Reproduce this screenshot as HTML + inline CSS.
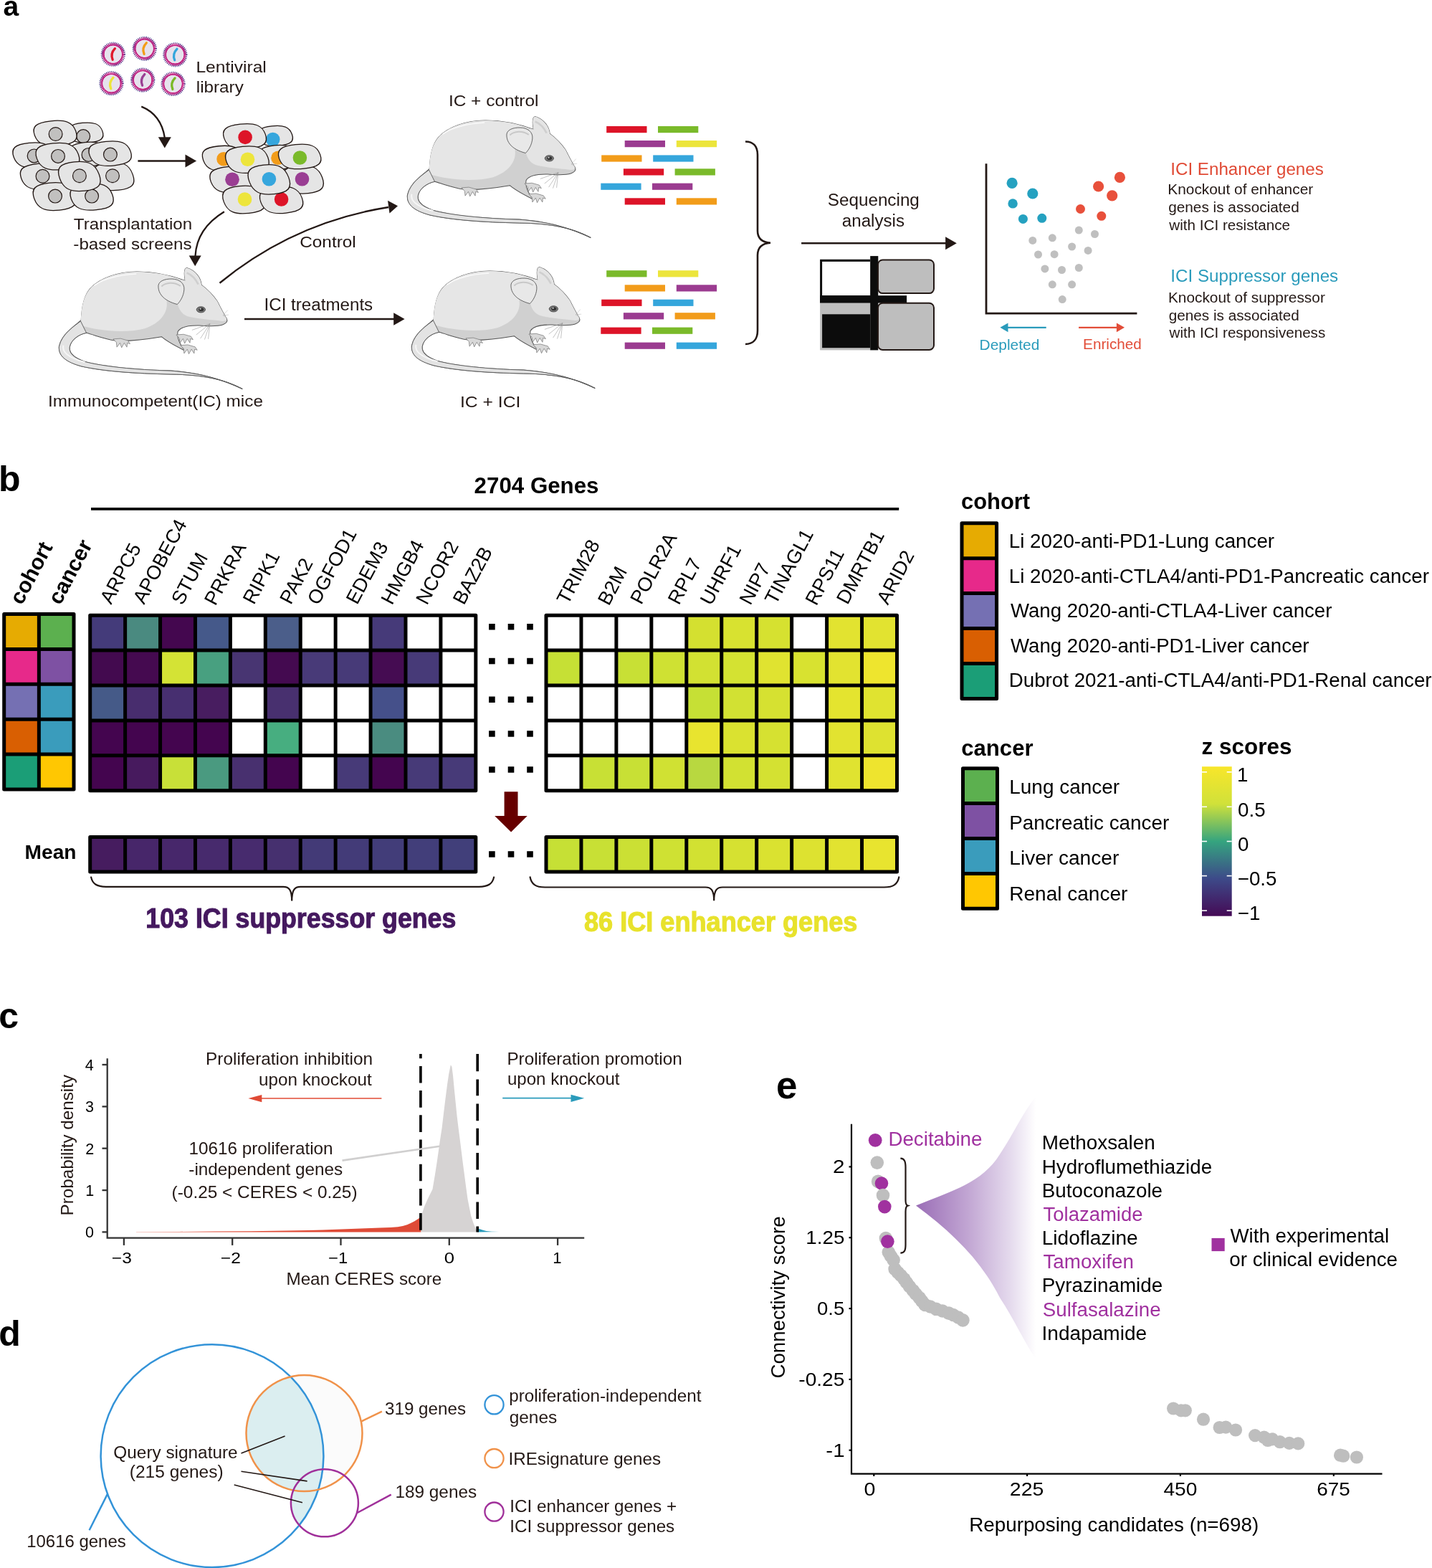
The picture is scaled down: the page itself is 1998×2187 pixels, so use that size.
<!DOCTYPE html>
<html><head><meta charset="utf-8"><title>Figure</title>
<style>html,body{margin:0;padding:0;background:#fff;}svg{display:block;}text{font-family:'Liberation Sans', Arial, Helvetica, sans-serif;}</style>
</head><body>
<svg width="1998" height="2187" viewBox="0 0 1998 2187">
<rect width="1998" height="2187" fill="#fff"/>
<text x="4.40" y="22.40" font-size="39" font-weight="bold" fill="#000" >a</text>
<text x="-2.10" y="685.00" font-size="50" font-weight="bold" fill="#000" >b</text>
<text x="-1.70" y="1434.40" font-size="50" font-weight="bold" fill="#000" >c</text>
<text x="-1.80" y="1876.60" font-size="50" font-weight="bold" fill="#000" >d</text>
<text x="1083.04" y="1532.40" font-size="54" font-weight="bold" fill="#000" textLength="29.45" lengthAdjust="spacingAndGlyphs" >e</text>
<g transform="translate(0,0)">
<path d="M143.00,185.20 C143.00,195.42 136.50,199.40 119.80,199.40 C103.10,199.40 96.60,195.42 96.60,185.20 C96.60,174.98 103.10,171.00 119.80,171.00 C136.50,171.00 143.00,174.98 143.00,185.20 Z" transform="translate(119.80 185.20) rotate(-6) skewX(14) translate(-119.80 -185.20)" fill="#e5e5e5" stroke="#231815" stroke-width="1.3"/>
<circle cx="116.2" cy="190.1" r="9.4" fill="#c1c0bf" stroke="#231815" stroke-width="1.2"/>
<path d="M105.90,185.85 C105.90,198.56 97.82,203.50 77.05,203.50 C56.28,203.50 48.20,198.56 48.20,185.85 C48.20,173.14 56.28,168.20 77.05,168.20 C97.82,168.20 105.90,173.14 105.90,185.85 Z" transform="translate(77.05 185.85) rotate(-6) skewX(14) translate(-77.05 -185.85)" fill="#e5e5e5" stroke="#231815" stroke-width="1.3"/>
<circle cx="77.6" cy="187.0" r="9.4" fill="#c1c0bf" stroke="#231815" stroke-width="1.2"/>
<path d="M74.00,216.30 C74.00,228.90 66.30,233.80 46.50,233.80 C26.70,233.80 19.00,228.90 19.00,216.30 C19.00,203.70 26.70,198.80 46.50,198.80 C66.30,198.80 74.00,203.70 74.00,216.30 Z" transform="translate(46.50 216.30) rotate(-6) skewX(14) translate(-46.50 -216.30)" fill="#e5e5e5" stroke="#231815" stroke-width="1.3"/>
<circle cx="47.6" cy="217.4" r="9.4" fill="#c1c0bf" stroke="#231815" stroke-width="1.2"/>
<path d="M150.00,215.00 C150.00,227.24 142.72,232.00 124.00,232.00 C105.28,232.00 98.00,227.24 98.00,215.00 C98.00,202.76 105.28,198.00 124.00,198.00 C142.72,198.00 150.00,202.76 150.00,215.00 Z" transform="translate(124.00 215.00) rotate(-6) skewX(14) translate(-124.00 -215.00)" fill="#e5e5e5" stroke="#231815" stroke-width="1.3"/>
<circle cx="123.5" cy="215.9" r="9.4" fill="#c1c0bf" stroke="#231815" stroke-width="1.2"/>
<path d="M88.40,246.00 C88.40,259.18 80.17,264.30 59.00,264.30 C37.83,264.30 29.60,259.18 29.60,246.00 C29.60,232.82 37.83,227.70 59.00,227.70 C80.17,227.70 88.40,232.82 88.40,246.00 Z" transform="translate(59.00 246.00) rotate(-6) skewX(14) translate(-59.00 -246.00)" fill="#e5e5e5" stroke="#231815" stroke-width="1.3"/>
<circle cx="59.5" cy="245.8" r="9.4" fill="#c1c0bf" stroke="#231815" stroke-width="1.2"/>
<path d="M185.30,246.00 C185.30,260.29 177.80,265.85 158.50,265.85 C139.20,265.85 131.70,260.29 131.70,246.00 C131.70,231.71 139.20,226.15 158.50,226.15 C177.80,226.15 185.30,231.71 185.30,246.00 Z" transform="translate(158.50 246.00) rotate(-6) skewX(14) translate(-158.50 -246.00)" fill="#e5e5e5" stroke="#231815" stroke-width="1.3"/>
<circle cx="157.0" cy="245.3" r="9.4" fill="#c1c0bf" stroke="#231815" stroke-width="1.2"/>
<path d="M109.50,218.20 C109.50,231.74 101.35,237.00 80.40,237.00 C59.45,237.00 51.30,231.74 51.30,218.20 C51.30,204.66 59.45,199.40 80.40,199.40 C101.35,199.40 109.50,204.66 109.50,218.20 Z" transform="translate(80.40 218.20) rotate(-6) skewX(14) translate(-80.40 -218.20)" fill="#e5e5e5" stroke="#231815" stroke-width="1.3"/>
<circle cx="81.0" cy="217.9" r="9.4" fill="#c1c0bf" stroke="#231815" stroke-width="1.2"/>
<path d="M182.30,214.05 C182.30,226.47 174.28,231.30 153.65,231.30 C133.02,231.30 125.00,226.47 125.00,214.05 C125.00,201.63 133.02,196.80 153.65,196.80 C174.28,196.80 182.30,201.63 182.30,214.05 Z" transform="translate(153.65 214.05) rotate(-6) skewX(14) translate(-153.65 -214.05)" fill="#e5e5e5" stroke="#231815" stroke-width="1.3"/>
<circle cx="153.9" cy="215.6" r="9.4" fill="#c1c0bf" stroke="#231815" stroke-width="1.2"/>
<path d="M104.40,274.10 C104.40,288.21 96.45,293.70 76.00,293.70 C55.55,293.70 47.60,288.21 47.60,274.10 C47.60,259.99 55.55,254.50 76.00,254.50 C96.45,254.50 104.40,259.99 104.40,274.10 Z" transform="translate(76.00 274.10) rotate(-6) skewX(14) translate(-76.00 -274.10)" fill="#e5e5e5" stroke="#231815" stroke-width="1.3"/>
<circle cx="77.0" cy="273.6" r="9.4" fill="#c1c0bf" stroke="#231815" stroke-width="1.2"/>
<path d="M157.00,274.60 C157.00,287.99 148.91,293.20 128.10,293.20 C107.29,293.20 99.20,287.99 99.20,274.60 C99.20,261.21 107.29,256.00 128.10,256.00 C148.91,256.00 157.00,261.21 157.00,274.60 Z" transform="translate(128.10 274.60) rotate(-6) skewX(14) translate(-128.10 -274.60)" fill="#e5e5e5" stroke="#231815" stroke-width="1.3"/>
<circle cx="128.1" cy="273.6" r="9.4" fill="#c1c0bf" stroke="#231815" stroke-width="1.2"/>
<path d="M138.40,246.00 C138.40,261.05 130.67,266.90 110.80,266.90 C90.93,266.90 83.20,261.05 83.20,246.00 C83.20,230.95 90.93,225.10 110.80,225.10 C130.67,225.10 138.40,230.95 138.40,246.00 Z" transform="translate(110.80 246.00) rotate(-6) skewX(14) translate(-110.80 -246.00)" fill="#e5e5e5" stroke="#231815" stroke-width="1.3"/>
<circle cx="110.9" cy="245.3" r="9.4" fill="#c1c0bf" stroke="#231815" stroke-width="1.2"/>
</g>
<g transform="translate(264.5,4.4)">
<path d="M143.00,185.20 C143.00,195.42 136.50,199.40 119.80,199.40 C103.10,199.40 96.60,195.42 96.60,185.20 C96.60,174.98 103.10,171.00 119.80,171.00 C136.50,171.00 143.00,174.98 143.00,185.20 Z" transform="translate(119.80 185.20) rotate(-6) skewX(14) translate(-119.80 -185.20)" fill="#e5e5e5" stroke="#231815" stroke-width="1.3"/>
<circle cx="116.2" cy="190.1" r="9.8" fill="#36a6dd"/>
<path d="M105.90,185.85 C105.90,198.56 97.82,203.50 77.05,203.50 C56.28,203.50 48.20,198.56 48.20,185.85 C48.20,173.14 56.28,168.20 77.05,168.20 C97.82,168.20 105.90,173.14 105.90,185.85 Z" transform="translate(77.05 185.85) rotate(-6) skewX(14) translate(-77.05 -185.85)" fill="#e5e5e5" stroke="#231815" stroke-width="1.3"/>
<circle cx="77.6" cy="187.0" r="9.8" fill="#dd1428"/>
<path d="M74.00,216.30 C74.00,228.90 66.30,233.80 46.50,233.80 C26.70,233.80 19.00,228.90 19.00,216.30 C19.00,203.70 26.70,198.80 46.50,198.80 C66.30,198.80 74.00,203.70 74.00,216.30 Z" transform="translate(46.50 216.30) rotate(-6) skewX(14) translate(-46.50 -216.30)" fill="#e5e5e5" stroke="#231815" stroke-width="1.3"/>
<circle cx="47.6" cy="217.4" r="9.8" fill="#f29c1a"/>
<path d="M150.00,215.00 C150.00,227.24 142.72,232.00 124.00,232.00 C105.28,232.00 98.00,227.24 98.00,215.00 C98.00,202.76 105.28,198.00 124.00,198.00 C142.72,198.00 150.00,202.76 150.00,215.00 Z" transform="translate(124.00 215.00) rotate(-6) skewX(14) translate(-124.00 -215.00)" fill="#e5e5e5" stroke="#231815" stroke-width="1.3"/>
<circle cx="123.5" cy="215.9" r="9.8" fill="#f29c1a"/>
<path d="M88.40,246.00 C88.40,259.18 80.17,264.30 59.00,264.30 C37.83,264.30 29.60,259.18 29.60,246.00 C29.60,232.82 37.83,227.70 59.00,227.70 C80.17,227.70 88.40,232.82 88.40,246.00 Z" transform="translate(59.00 246.00) rotate(-6) skewX(14) translate(-59.00 -246.00)" fill="#e5e5e5" stroke="#231815" stroke-width="1.3"/>
<circle cx="59.5" cy="245.8" r="9.8" fill="#9a3e93"/>
<path d="M185.30,246.00 C185.30,260.29 177.80,265.85 158.50,265.85 C139.20,265.85 131.70,260.29 131.70,246.00 C131.70,231.71 139.20,226.15 158.50,226.15 C177.80,226.15 185.30,231.71 185.30,246.00 Z" transform="translate(158.50 246.00) rotate(-6) skewX(14) translate(-158.50 -246.00)" fill="#e5e5e5" stroke="#231815" stroke-width="1.3"/>
<circle cx="157.0" cy="245.3" r="9.8" fill="#9a3e93"/>
<path d="M109.50,218.20 C109.50,231.74 101.35,237.00 80.40,237.00 C59.45,237.00 51.30,231.74 51.30,218.20 C51.30,204.66 59.45,199.40 80.40,199.40 C101.35,199.40 109.50,204.66 109.50,218.20 Z" transform="translate(80.40 218.20) rotate(-6) skewX(14) translate(-80.40 -218.20)" fill="#e5e5e5" stroke="#231815" stroke-width="1.3"/>
<circle cx="81.0" cy="217.9" r="9.8" fill="#ede53c"/>
<path d="M182.30,214.05 C182.30,226.47 174.28,231.30 153.65,231.30 C133.02,231.30 125.00,226.47 125.00,214.05 C125.00,201.63 133.02,196.80 153.65,196.80 C174.28,196.80 182.30,201.63 182.30,214.05 Z" transform="translate(153.65 214.05) rotate(-6) skewX(14) translate(-153.65 -214.05)" fill="#e5e5e5" stroke="#231815" stroke-width="1.3"/>
<circle cx="153.9" cy="215.6" r="9.8" fill="#7aba2a"/>
<path d="M104.40,274.10 C104.40,288.21 96.45,293.70 76.00,293.70 C55.55,293.70 47.60,288.21 47.60,274.10 C47.60,259.99 55.55,254.50 76.00,254.50 C96.45,254.50 104.40,259.99 104.40,274.10 Z" transform="translate(76.00 274.10) rotate(-6) skewX(14) translate(-76.00 -274.10)" fill="#e5e5e5" stroke="#231815" stroke-width="1.3"/>
<circle cx="77.0" cy="273.6" r="9.8" fill="#ede53c"/>
<path d="M157.00,274.60 C157.00,287.99 148.91,293.20 128.10,293.20 C107.29,293.20 99.20,287.99 99.20,274.60 C99.20,261.21 107.29,256.00 128.10,256.00 C148.91,256.00 157.00,261.21 157.00,274.60 Z" transform="translate(128.10 274.60) rotate(-6) skewX(14) translate(-128.10 -274.60)" fill="#e5e5e5" stroke="#231815" stroke-width="1.3"/>
<circle cx="128.1" cy="273.6" r="9.8" fill="#dd1428"/>
<path d="M138.40,246.00 C138.40,261.05 130.67,266.90 110.80,266.90 C90.93,266.90 83.20,261.05 83.20,246.00 C83.20,230.95 90.93,225.10 110.80,225.10 C130.67,225.10 138.40,230.95 138.40,246.00 Z" transform="translate(110.80 246.00) rotate(-6) skewX(14) translate(-110.80 -246.00)" fill="#e5e5e5" stroke="#231815" stroke-width="1.3"/>
<circle cx="110.9" cy="245.3" r="9.8" fill="#36a6dd"/>
</g>
<circle cx="157.8" cy="75.7" r="14.6" fill="none" stroke="#2d2a80" stroke-width="5" stroke-dasharray="0.9 1.3"/>
<circle cx="157.8" cy="75.7" r="14.2" fill="none" stroke="#c8197d" stroke-width="3.2" stroke-dasharray="1.1 0.9"/>
<circle cx="157.8" cy="75.7" r="12.8" fill="none" stroke="#c8197d" stroke-width="1.5"/>
<circle cx="157.8" cy="75.7" r="12.0" fill="#e6e2ec"/>
<path d="M160.4,67.7 Q153.6,74.7 157.2,83.3" fill="none" stroke="#e0182c" stroke-width="3.3" stroke-linecap="round"/>
<circle cx="201.7" cy="67.8" r="14.6" fill="none" stroke="#2d2a80" stroke-width="5" stroke-dasharray="0.9 1.3"/>
<circle cx="201.7" cy="67.8" r="14.2" fill="none" stroke="#c8197d" stroke-width="3.2" stroke-dasharray="1.1 0.9"/>
<circle cx="201.7" cy="67.8" r="12.8" fill="none" stroke="#c8197d" stroke-width="1.5"/>
<circle cx="201.7" cy="67.8" r="12.0" fill="#e6e2ec"/>
<path d="M204.3,59.8 Q197.5,66.8 201.1,75.4" fill="none" stroke="#f39d17" stroke-width="3.3" stroke-linecap="round"/>
<circle cx="244.3" cy="76.3" r="14.6" fill="none" stroke="#2d2a80" stroke-width="5" stroke-dasharray="0.9 1.3"/>
<circle cx="244.3" cy="76.3" r="14.2" fill="none" stroke="#c8197d" stroke-width="3.2" stroke-dasharray="1.1 0.9"/>
<circle cx="244.3" cy="76.3" r="12.8" fill="none" stroke="#c8197d" stroke-width="1.5"/>
<circle cx="244.3" cy="76.3" r="12.0" fill="#e6e2ec"/>
<path d="M246.9,68.3 Q240.1,75.3 243.7,83.9" fill="none" stroke="#35a6dc" stroke-width="3.3" stroke-linecap="round"/>
<circle cx="155.4" cy="116.2" r="14.6" fill="none" stroke="#2d2a80" stroke-width="5" stroke-dasharray="0.9 1.3"/>
<circle cx="155.4" cy="116.2" r="14.2" fill="none" stroke="#c8197d" stroke-width="3.2" stroke-dasharray="1.1 0.9"/>
<circle cx="155.4" cy="116.2" r="12.8" fill="none" stroke="#c8197d" stroke-width="1.5"/>
<circle cx="155.4" cy="116.2" r="12.0" fill="#e6e2ec"/>
<path d="M158.0,108.2 Q151.2,115.2 154.8,123.8" fill="none" stroke="#ede53a" stroke-width="3.3" stroke-linecap="round"/>
<circle cx="199.2" cy="111.6" r="14.6" fill="none" stroke="#2d2a80" stroke-width="5" stroke-dasharray="0.9 1.3"/>
<circle cx="199.2" cy="111.6" r="14.2" fill="none" stroke="#c8197d" stroke-width="3.2" stroke-dasharray="1.1 0.9"/>
<circle cx="199.2" cy="111.6" r="12.8" fill="none" stroke="#c8197d" stroke-width="1.5"/>
<circle cx="199.2" cy="111.6" r="12.0" fill="#e6e2ec"/>
<path d="M201.8,103.6 Q195.0,110.6 198.6,119.2" fill="none" stroke="#9a3f93" stroke-width="3.3" stroke-linecap="round"/>
<circle cx="241.5" cy="116.9" r="14.6" fill="none" stroke="#2d2a80" stroke-width="5" stroke-dasharray="0.9 1.3"/>
<circle cx="241.5" cy="116.9" r="14.2" fill="none" stroke="#c8197d" stroke-width="3.2" stroke-dasharray="1.1 0.9"/>
<circle cx="241.5" cy="116.9" r="12.8" fill="none" stroke="#c8197d" stroke-width="1.5"/>
<circle cx="241.5" cy="116.9" r="12.0" fill="#e6e2ec"/>
<path d="M244.1,108.9 Q237.3,115.9 240.9,124.5" fill="none" stroke="#7aba26" stroke-width="3.3" stroke-linecap="round"/>
<text x="273.43" y="100.70" font-size="22.5" fill="#231815" textLength="98.37" lengthAdjust="spacingAndGlyphs" >Lentiviral</text>
<text x="273.78" y="128.90" font-size="22.5" fill="#231815" textLength="65.99" lengthAdjust="spacingAndGlyphs" >library</text>
<path d="M197.3,148.6 Q225,160 229.8,192" fill="none" stroke="#231815" stroke-width="2.3"/>
<polygon points="229.8,206.5 220.8,191.2 238.8,191.2" fill="#231815"/>
<line x1="192.4" y1="224.5" x2="260" y2="224.5" stroke="#231815" stroke-width="2.3"/>
<polygon points="274.1,224.5 258.5,215.5 258.5,233.5" fill="#231815"/>
<path d="M312.9,295.3 C292,308 274,328 272.5,357" fill="none" stroke="#231815" stroke-width="2.3"/>
<polygon points="272.2,371.2 263.7,356.4 280.7,356.4" fill="#231815"/>
<path d="M306.5,394.7 Q410,310 542,289" fill="none" stroke="#231815" stroke-width="2.4"/>
<polygon points="555,287.2 541,279.8 543.5,297.4" fill="#231815"/>
<line x1="341" y1="445" x2="551" y2="445" stroke="#231815" stroke-width="2.4"/>
<polygon points="564.6,445 549.2,436.2 549.2,453.8" fill="#231815"/>
<text x="102.86" y="320.10" font-size="22.5" fill="#231815" textLength="165.30" lengthAdjust="spacingAndGlyphs" >Transplantation</text>
<text x="102.33" y="348.40" font-size="22.5" fill="#231815" textLength="165.27" lengthAdjust="spacingAndGlyphs" >-based screens</text>
<text x="418.21" y="345.10" font-size="22.5" fill="#231815" textLength="78.56" lengthAdjust="spacingAndGlyphs" >Control</text>
<text x="368.49" y="433.20" font-size="23" fill="#231815" textLength="151.69" lengthAdjust="spacingAndGlyphs" >ICI treatments</text>
<text x="67.03" y="567.30" font-size="22.5" fill="#231815" textLength="299.94" lengthAdjust="spacingAndGlyphs" >Immunocompetent(IC) mice</text>
<text x="625.92" y="147.70" font-size="22.5" fill="#231815" textLength="125.60" lengthAdjust="spacingAndGlyphs" >IC + control</text>
<text x="641.99" y="567.60" font-size="22.5" fill="#231815" textLength="84.41" lengthAdjust="spacingAndGlyphs" >IC + ICI</text>
<g transform="translate(70,360) scale(0.14658)">
<path d="M1285,215 C1150,165 980,128 820,130 C640,133 470,190 380,290 C320,360 300,460 295,590 C240,640 110,720 85,840 C75,930 150,990 300,1030 C500,1075 800,1098 1150,1105 C1450,1110 1650,1150 1830,1245 C1650,1160 1450,1095 1150,1072 C800,1062 500,1030 330,985 C230,950 180,910 185,850 C195,780 270,725 345,712 C430,735 520,770 620,785 C760,795 930,770 1060,748 C1120,800 1200,840 1290,885 C1240,830 1205,760 1215,700 C1240,655 1330,640 1420,642 C1500,645 1580,655 1640,635 C1690,615 1695,590 1670,560 C1640,510 1610,450 1590,410 C1550,350 1500,300 1440,255 C1435,195 1390,120 1300,92 C1270,100 1275,160 1285,215 Z" fill="#d0d0d0" stroke="#555" stroke-width="7"/>
<path d="M292,610 C295,460 320,360 380,290 C470,190 640,133 820,130 C980,128 1150,165 1250,205 C1150,260 1100,330 1110,420 C1120,520 1050,620 900,670 C700,720 450,690 292,640 Z" fill="#e6e6e6"/>
<path d="M1250,205 L1285,215 C1275,160 1270,100 1300,92 C1390,120 1435,195 1440,255 C1500,300 1550,350 1590,410 C1610,450 1640,510 1670,560 C1690,590 1680,600 1640,600 C1560,590 1450,585 1330,560 C1260,545 1230,500 1210,430 C1200,350 1210,260 1250,205 Z" fill="#e4e4e4"/>
<path d="M290,600 C240,640 110,720 85,840 C75,930 150,990 300,1030 C500,1075 800,1098 1150,1105 C1450,1110 1650,1150 1830,1245 C1650,1160 1450,1095 1150,1072 C800,1062 500,1030 330,985 C230,950 180,910 185,850 C195,780 270,725 345,712 Z" fill="#e3e3e3" stroke="#555" stroke-width="6"/>
<path d="M1030,280 C1020,220 1090,195 1160,198 C1230,200 1280,240 1275,300 C1270,360 1240,410 1210,440 C1150,425 1090,395 1060,355 C1040,330 1032,305 1030,280 Z" fill="#e8e8e8" stroke="#555" stroke-width="6"/>
<path d="M1060,270 C1100,230 1180,225 1240,265" fill="none" stroke="#c8c8c8" stroke-width="14"/>
<path d="M1300,140 C1350,160 1390,210 1410,250" fill="none" stroke="#cfcfcf" stroke-width="18"/>
<path d="M420,260 C520,190 650,160 820,150" fill="none" stroke="#fafafa" stroke-width="10"/>
<path d="M125,830 C110,900 180,950 330,990" fill="none" stroke="#f6f6f6" stroke-width="14"/>
<ellipse cx="1435" cy="490" rx="42" ry="28" fill="#7a7a7a" stroke="#444" stroke-width="6"/>
<ellipse cx="1438" cy="489" rx="24" ry="16" fill="#333"/>
<circle cx="1430" cy="483" r="7" fill="#ddd"/>
<path d="M600,770 l70,-5 l70,20 l20,30 l-25,-8 l-5,40 l-25,-40 l-25,45 l-15,-45 l-30,40 l-5,-45 Z" fill="#d8d8d8" stroke="#777" stroke-width="5"/>
<path d="M1200,730 l70,-5 l70,20 l20,30 l-25,-8 l-5,40 l-25,-40 l-25,45 l-15,-45 l-30,40 l-5,-45 Z" fill="#d8d8d8" stroke="#777" stroke-width="5"/>
<path d="M1240,830 l70,-5 l70,20 l20,30 l-25,-8 l-5,40 l-25,-40 l-25,45 l-15,-45 l-30,40 l-5,-45 Z" fill="#d8d8d8" stroke="#777" stroke-width="5"/>
<line x1="1520" y1="625" x2="1350" y2="685" stroke="#999" stroke-width="4"/>
<line x1="1520" y1="625" x2="1390" y2="730" stroke="#999" stroke-width="4"/>
<line x1="1520" y1="625" x2="1430" y2="765" stroke="#999" stroke-width="4"/>
<line x1="1520" y1="625" x2="1470" y2="775" stroke="#999" stroke-width="4"/>
<line x1="1520" y1="625" x2="1505" y2="770" stroke="#999" stroke-width="4"/>
<line x1="1645" y1="545" x2="1690" y2="495" stroke="#aaa" stroke-width="3"/>
<line x1="1645" y1="545" x2="1700" y2="540" stroke="#aaa" stroke-width="3"/>
<line x1="1645" y1="545" x2="1680" y2="565" stroke="#aaa" stroke-width="3"/>
</g>
<g transform="translate(556,149) scale(0.14658)">
<path d="M1285,215 C1150,165 980,128 820,130 C640,133 470,190 380,290 C320,360 300,460 295,590 C240,640 110,720 85,840 C75,930 150,990 300,1030 C500,1075 800,1098 1150,1105 C1450,1110 1650,1150 1830,1245 C1650,1160 1450,1095 1150,1072 C800,1062 500,1030 330,985 C230,950 180,910 185,850 C195,780 270,725 345,712 C430,735 520,770 620,785 C760,795 930,770 1060,748 C1120,800 1200,840 1290,885 C1240,830 1205,760 1215,700 C1240,655 1330,640 1420,642 C1500,645 1580,655 1640,635 C1690,615 1695,590 1670,560 C1640,510 1610,450 1590,410 C1550,350 1500,300 1440,255 C1435,195 1390,120 1300,92 C1270,100 1275,160 1285,215 Z" fill="#d0d0d0" stroke="#555" stroke-width="7"/>
<path d="M292,610 C295,460 320,360 380,290 C470,190 640,133 820,130 C980,128 1150,165 1250,205 C1150,260 1100,330 1110,420 C1120,520 1050,620 900,670 C700,720 450,690 292,640 Z" fill="#e6e6e6"/>
<path d="M1250,205 L1285,215 C1275,160 1270,100 1300,92 C1390,120 1435,195 1440,255 C1500,300 1550,350 1590,410 C1610,450 1640,510 1670,560 C1690,590 1680,600 1640,600 C1560,590 1450,585 1330,560 C1260,545 1230,500 1210,430 C1200,350 1210,260 1250,205 Z" fill="#e4e4e4"/>
<path d="M290,600 C240,640 110,720 85,840 C75,930 150,990 300,1030 C500,1075 800,1098 1150,1105 C1450,1110 1650,1150 1830,1245 C1650,1160 1450,1095 1150,1072 C800,1062 500,1030 330,985 C230,950 180,910 185,850 C195,780 270,725 345,712 Z" fill="#e3e3e3" stroke="#555" stroke-width="6"/>
<path d="M1030,280 C1020,220 1090,195 1160,198 C1230,200 1280,240 1275,300 C1270,360 1240,410 1210,440 C1150,425 1090,395 1060,355 C1040,330 1032,305 1030,280 Z" fill="#e8e8e8" stroke="#555" stroke-width="6"/>
<path d="M1060,270 C1100,230 1180,225 1240,265" fill="none" stroke="#c8c8c8" stroke-width="14"/>
<path d="M1300,140 C1350,160 1390,210 1410,250" fill="none" stroke="#cfcfcf" stroke-width="18"/>
<path d="M420,260 C520,190 650,160 820,150" fill="none" stroke="#fafafa" stroke-width="10"/>
<path d="M125,830 C110,900 180,950 330,990" fill="none" stroke="#f6f6f6" stroke-width="14"/>
<ellipse cx="1435" cy="490" rx="42" ry="28" fill="#7a7a7a" stroke="#444" stroke-width="6"/>
<ellipse cx="1438" cy="489" rx="24" ry="16" fill="#333"/>
<circle cx="1430" cy="483" r="7" fill="#ddd"/>
<path d="M600,770 l70,-5 l70,20 l20,30 l-25,-8 l-5,40 l-25,-40 l-25,45 l-15,-45 l-30,40 l-5,-45 Z" fill="#d8d8d8" stroke="#777" stroke-width="5"/>
<path d="M1200,730 l70,-5 l70,20 l20,30 l-25,-8 l-5,40 l-25,-40 l-25,45 l-15,-45 l-30,40 l-5,-45 Z" fill="#d8d8d8" stroke="#777" stroke-width="5"/>
<path d="M1240,830 l70,-5 l70,20 l20,30 l-25,-8 l-5,40 l-25,-40 l-25,45 l-15,-45 l-30,40 l-5,-45 Z" fill="#d8d8d8" stroke="#777" stroke-width="5"/>
<line x1="1520" y1="625" x2="1350" y2="685" stroke="#999" stroke-width="4"/>
<line x1="1520" y1="625" x2="1390" y2="730" stroke="#999" stroke-width="4"/>
<line x1="1520" y1="625" x2="1430" y2="765" stroke="#999" stroke-width="4"/>
<line x1="1520" y1="625" x2="1470" y2="775" stroke="#999" stroke-width="4"/>
<line x1="1520" y1="625" x2="1505" y2="770" stroke="#999" stroke-width="4"/>
<line x1="1645" y1="545" x2="1690" y2="495" stroke="#aaa" stroke-width="3"/>
<line x1="1645" y1="545" x2="1700" y2="540" stroke="#aaa" stroke-width="3"/>
<line x1="1645" y1="545" x2="1680" y2="565" stroke="#aaa" stroke-width="3"/>
</g>
<g transform="translate(562,359) scale(0.14658)">
<path d="M1285,215 C1150,165 980,128 820,130 C640,133 470,190 380,290 C320,360 300,460 295,590 C240,640 110,720 85,840 C75,930 150,990 300,1030 C500,1075 800,1098 1150,1105 C1450,1110 1650,1150 1830,1245 C1650,1160 1450,1095 1150,1072 C800,1062 500,1030 330,985 C230,950 180,910 185,850 C195,780 270,725 345,712 C430,735 520,770 620,785 C760,795 930,770 1060,748 C1120,800 1200,840 1290,885 C1240,830 1205,760 1215,700 C1240,655 1330,640 1420,642 C1500,645 1580,655 1640,635 C1690,615 1695,590 1670,560 C1640,510 1610,450 1590,410 C1550,350 1500,300 1440,255 C1435,195 1390,120 1300,92 C1270,100 1275,160 1285,215 Z" fill="#d0d0d0" stroke="#555" stroke-width="7"/>
<path d="M292,610 C295,460 320,360 380,290 C470,190 640,133 820,130 C980,128 1150,165 1250,205 C1150,260 1100,330 1110,420 C1120,520 1050,620 900,670 C700,720 450,690 292,640 Z" fill="#e6e6e6"/>
<path d="M1250,205 L1285,215 C1275,160 1270,100 1300,92 C1390,120 1435,195 1440,255 C1500,300 1550,350 1590,410 C1610,450 1640,510 1670,560 C1690,590 1680,600 1640,600 C1560,590 1450,585 1330,560 C1260,545 1230,500 1210,430 C1200,350 1210,260 1250,205 Z" fill="#e4e4e4"/>
<path d="M290,600 C240,640 110,720 85,840 C75,930 150,990 300,1030 C500,1075 800,1098 1150,1105 C1450,1110 1650,1150 1830,1245 C1650,1160 1450,1095 1150,1072 C800,1062 500,1030 330,985 C230,950 180,910 185,850 C195,780 270,725 345,712 Z" fill="#e3e3e3" stroke="#555" stroke-width="6"/>
<path d="M1030,280 C1020,220 1090,195 1160,198 C1230,200 1280,240 1275,300 C1270,360 1240,410 1210,440 C1150,425 1090,395 1060,355 C1040,330 1032,305 1030,280 Z" fill="#e8e8e8" stroke="#555" stroke-width="6"/>
<path d="M1060,270 C1100,230 1180,225 1240,265" fill="none" stroke="#c8c8c8" stroke-width="14"/>
<path d="M1300,140 C1350,160 1390,210 1410,250" fill="none" stroke="#cfcfcf" stroke-width="18"/>
<path d="M420,260 C520,190 650,160 820,150" fill="none" stroke="#fafafa" stroke-width="10"/>
<path d="M125,830 C110,900 180,950 330,990" fill="none" stroke="#f6f6f6" stroke-width="14"/>
<ellipse cx="1435" cy="490" rx="42" ry="28" fill="#7a7a7a" stroke="#444" stroke-width="6"/>
<ellipse cx="1438" cy="489" rx="24" ry="16" fill="#333"/>
<circle cx="1430" cy="483" r="7" fill="#ddd"/>
<path d="M600,770 l70,-5 l70,20 l20,30 l-25,-8 l-5,40 l-25,-40 l-25,45 l-15,-45 l-30,40 l-5,-45 Z" fill="#d8d8d8" stroke="#777" stroke-width="5"/>
<path d="M1200,730 l70,-5 l70,20 l20,30 l-25,-8 l-5,40 l-25,-40 l-25,45 l-15,-45 l-30,40 l-5,-45 Z" fill="#d8d8d8" stroke="#777" stroke-width="5"/>
<path d="M1240,830 l70,-5 l70,20 l20,30 l-25,-8 l-5,40 l-25,-40 l-25,45 l-15,-45 l-30,40 l-5,-45 Z" fill="#d8d8d8" stroke="#777" stroke-width="5"/>
<line x1="1520" y1="625" x2="1350" y2="685" stroke="#999" stroke-width="4"/>
<line x1="1520" y1="625" x2="1390" y2="730" stroke="#999" stroke-width="4"/>
<line x1="1520" y1="625" x2="1430" y2="765" stroke="#999" stroke-width="4"/>
<line x1="1520" y1="625" x2="1470" y2="775" stroke="#999" stroke-width="4"/>
<line x1="1520" y1="625" x2="1505" y2="770" stroke="#999" stroke-width="4"/>
<line x1="1645" y1="545" x2="1690" y2="495" stroke="#aaa" stroke-width="3"/>
<line x1="1645" y1="545" x2="1700" y2="540" stroke="#aaa" stroke-width="3"/>
<line x1="1645" y1="545" x2="1680" y2="565" stroke="#aaa" stroke-width="3"/>
</g>
<rect x="846.2" y="176.0" width="56.3" height="9.2" fill="#dd1428"/>
<rect x="918" y="176.0" width="56.3" height="9.2" fill="#7aba2a"/>
<rect x="871.7" y="196.0" width="56.3" height="9.2" fill="#9b3b90"/>
<rect x="943.8" y="196.0" width="56.3" height="9.2" fill="#ece53c"/>
<rect x="839.2" y="216.4" width="56.3" height="9.2" fill="#f29c1a"/>
<rect x="911.2" y="216.4" width="56.3" height="9.2" fill="#35a6dc"/>
<rect x="869.9" y="235.3" width="56.3" height="9.2" fill="#dd1428"/>
<rect x="941.6" y="235.3" width="56.3" height="9.2" fill="#7aba2a"/>
<rect x="838.3" y="255.6" width="56.3" height="9.2" fill="#35a6dc"/>
<rect x="910" y="255.6" width="56.3" height="9.2" fill="#9b3b90"/>
<rect x="871.7" y="276.3" width="56.3" height="9.2" fill="#dd1428"/>
<rect x="943.8" y="276.3" width="56.3" height="9.2" fill="#f29c1a"/>
<rect x="846.2" y="377.2" width="56.3" height="9.2" fill="#7aba2a"/>
<rect x="918" y="377.2" width="56.3" height="9.2" fill="#ece53c"/>
<rect x="871.7" y="397.3" width="56.3" height="9.2" fill="#f29c1a"/>
<rect x="943.8" y="397.3" width="56.3" height="9.2" fill="#9b3b90"/>
<rect x="839.2" y="417.7" width="56.3" height="9.2" fill="#dd1428"/>
<rect x="911.2" y="417.7" width="56.3" height="9.2" fill="#35a6dc"/>
<rect x="869.9" y="436.2" width="56.3" height="9.2" fill="#9b3b90"/>
<rect x="941.6" y="436.2" width="56.3" height="9.2" fill="#f29c1a"/>
<rect x="838.3" y="456.6" width="56.3" height="9.2" fill="#dd1428"/>
<rect x="910" y="456.6" width="56.3" height="9.2" fill="#7aba2a"/>
<rect x="871.7" y="477.6" width="56.3" height="9.2" fill="#9b3b90"/>
<rect x="943.8" y="477.6" width="56.3" height="9.2" fill="#35a6dc"/>
<path d="M1040,197.5 C1051,197.5 1057,204 1057,216 L1057,322 C1057,333 1063,338 1075,338.7 C1063,339.4 1057,345 1057,356 L1057,461 C1057,473 1051,480 1040,480" fill="none" stroke="#231815" stroke-width="2.6"/>
<text x="1154.76" y="287.10" font-size="23.5" fill="#231815" textLength="128.12" lengthAdjust="spacingAndGlyphs" >Sequencing</text>
<text x="1174.77" y="315.80" font-size="23.5" fill="#231815" textLength="87.25" lengthAdjust="spacingAndGlyphs" >analysis</text>
<line x1="1118.1" y1="339.3" x2="1321" y2="339.3" stroke="#231815" stroke-width="2.6"/>
<polygon points="1334.8,339.3 1319.1,330.3 1319.1,348.3" fill="#231815"/>
<rect x="1144.1" y="361.8" width="70.1" height="61" fill="#0c0c0c"/>
<rect x="1147.1" y="364.9" width="67.1" height="47.3" fill="#fff"/>
<rect x="1144.1" y="412.2" width="121" height="10.4" fill="#0c0c0c"/>
<rect x="1144.1" y="422.6" width="70.1" height="65.8" fill="#bebebe"/>
<rect x="1147.1" y="438.3" width="67.1" height="46.9" fill="#0c0c0c"/>
<rect x="1214.2" y="357.1" width="11.1" height="131.3" fill="#0c0c0c"/>
<rect x="1225" y="362.5" width="78" height="46.6" rx="6.5" fill="#bebebe" stroke="#231815" stroke-width="2"/>
<rect x="1225" y="422.7" width="78" height="65.2" rx="6.5" fill="#bebebe" stroke="#231815" stroke-width="2"/>
<path d="M1376,228.3 L1376,437.1 L1586.4,437.1" fill="none" stroke="#231815" stroke-width="2.8"/>
<circle cx="1412.1" cy="255.4" r="7.6" fill="#25a1c0"/>
<circle cx="1440.8" cy="270" r="7.6" fill="#25a1c0"/>
<circle cx="1413.1" cy="283.9" r="6.7" fill="#25a1c0"/>
<circle cx="1427.4" cy="305.4" r="6.5" fill="#25a1c0"/>
<circle cx="1453.8" cy="304.3" r="6.5" fill="#25a1c0"/>
<circle cx="1562.4" cy="247.4" r="7.6" fill="#e8503b"/>
<circle cx="1532.6" cy="260" r="7.6" fill="#e8503b"/>
<circle cx="1551.7" cy="272.8" r="7.6" fill="#e8503b"/>
<circle cx="1507.5" cy="291.5" r="6.5" fill="#e8503b"/>
<circle cx="1536.8" cy="301.3" r="6.5" fill="#e8503b"/>
<circle cx="1505.3" cy="321.1" r="5.5" fill="#bfbfbf"/>
<circle cx="1527.5" cy="326.5" r="5.5" fill="#bfbfbf"/>
<circle cx="1440.8" cy="335.4" r="5.5" fill="#bfbfbf"/>
<circle cx="1468.3" cy="331.8" r="5.5" fill="#bfbfbf"/>
<circle cx="1495.6" cy="344" r="5.5" fill="#bfbfbf"/>
<circle cx="1518.1" cy="349.4" r="5.5" fill="#bfbfbf"/>
<circle cx="1448.5" cy="355" r="5.5" fill="#bfbfbf"/>
<circle cx="1471.1" cy="354.7" r="5.5" fill="#bfbfbf"/>
<circle cx="1457.9" cy="374.9" r="5.5" fill="#bfbfbf"/>
<circle cx="1481.5" cy="376.5" r="5.5" fill="#bfbfbf"/>
<circle cx="1505.3" cy="373.5" r="5.5" fill="#bfbfbf"/>
<circle cx="1468.3" cy="396.8" r="5.5" fill="#bfbfbf"/>
<circle cx="1495.6" cy="396.8" r="5.5" fill="#bfbfbf"/>
<circle cx="1482.2" cy="417.6" r="5.5" fill="#bfbfbf"/>
<line x1="1459.7" y1="456.8" x2="1405" y2="456.8" stroke="#2a9bbb" stroke-width="2.2"/>
<polygon points="1395.4,456.8 1406.5,450.6 1406.5,463.2" fill="#2a9bbb"/>
<line x1="1505.1" y1="456.8" x2="1559" y2="456.8" stroke="#e24d38" stroke-width="2.2"/>
<polygon points="1569,456.8 1557.9,450.6 1557.9,463.2" fill="#e24d38"/>
<text x="1366.58" y="488.00" font-size="19.5" fill="#2a9bbb" textLength="83.78" lengthAdjust="spacingAndGlyphs" >Depleted</text>
<text x="1511.10" y="487.40" font-size="19.5" fill="#e24d38" textLength="81.64" lengthAdjust="spacingAndGlyphs" >Enriched</text>
<text x="1633.30" y="243.90" font-size="23" fill="#e04a35" textLength="213.45" lengthAdjust="spacingAndGlyphs" >ICI Enhancer genes</text>
<text x="1629.33" y="270.80" font-size="20" fill="#231815" textLength="202.87" lengthAdjust="spacingAndGlyphs" >Knockout of enhancer</text>
<text x="1630.17" y="295.70" font-size="20" fill="#231815" textLength="182.56" lengthAdjust="spacingAndGlyphs" >genes is associated</text>
<text x="1631.30" y="320.60" font-size="20" fill="#231815" textLength="168.72" lengthAdjust="spacingAndGlyphs" >with ICI resistance</text>
<text x="1633.29" y="393.10" font-size="23" fill="#2a9bbb" textLength="233.91" lengthAdjust="spacingAndGlyphs" >ICI Suppressor genes</text>
<text x="1629.93" y="421.80" font-size="20" fill="#231815" textLength="218.90" lengthAdjust="spacingAndGlyphs" >Knockout of suppressor</text>
<text x="1630.77" y="446.50" font-size="20" fill="#231815" textLength="181.95" lengthAdjust="spacingAndGlyphs" >genes is associated</text>
<text x="1631.60" y="471.20" font-size="20" fill="#231815" textLength="217.62" lengthAdjust="spacingAndGlyphs" >with ICI responsiveness</text>
<rect x="5.70" y="856.50" width="48.65" height="48.90" fill="#e6ab02"/>
<rect x="54.35" y="856.50" width="48.65" height="48.90" fill="#5cb04f"/>
<rect x="5.70" y="905.40" width="48.65" height="48.90" fill="#e7298a"/>
<rect x="54.35" y="905.40" width="48.65" height="48.90" fill="#7e51a3"/>
<rect x="5.70" y="954.30" width="48.65" height="48.90" fill="#7570b3"/>
<rect x="54.35" y="954.30" width="48.65" height="48.90" fill="#3a9cbc"/>
<rect x="5.70" y="1003.20" width="48.65" height="48.90" fill="#d95f02"/>
<rect x="54.35" y="1003.20" width="48.65" height="48.90" fill="#3a9cbc"/>
<rect x="5.70" y="1052.10" width="48.65" height="48.90" fill="#1b9e77"/>
<rect x="54.35" y="1052.10" width="48.65" height="48.90" fill="#ffc702"/>
<path d="M54.35,856.50V1101.00M5.70,905.40H103.00M5.70,954.30H103.00M5.70,1003.20H103.00M5.70,1052.10H103.00" stroke="#000" stroke-width="5.0" fill="none"/>
<rect x="5.70" y="856.50" width="97.30" height="244.50" fill="none" stroke="#000" stroke-width="5.0" stroke-linejoin="round"/>
<rect x="125.70" y="858.20" width="48.92" height="48.90" fill="#443b7a"/>
<rect x="174.62" y="858.20" width="48.92" height="48.90" fill="#4a8a80"/>
<rect x="223.54" y="858.20" width="48.92" height="48.90" fill="#44074f"/>
<rect x="272.46" y="858.20" width="48.92" height="48.90" fill="#45598a"/>
<rect x="370.30" y="858.20" width="48.92" height="48.90" fill="#4b5e8a"/>
<rect x="517.06" y="858.20" width="48.92" height="48.90" fill="#463a79"/>
<rect x="125.70" y="907.10" width="48.92" height="48.90" fill="#430a4f"/>
<rect x="174.62" y="907.10" width="48.92" height="48.90" fill="#450a50"/>
<rect x="223.54" y="907.10" width="48.92" height="48.90" fill="#d4e335"/>
<rect x="272.46" y="907.10" width="48.92" height="48.90" fill="#48a080"/>
<rect x="321.38" y="907.10" width="48.92" height="48.90" fill="#483572"/>
<rect x="370.30" y="907.10" width="48.92" height="48.90" fill="#440a50"/>
<rect x="419.22" y="907.10" width="48.92" height="48.90" fill="#483a78"/>
<rect x="468.14" y="907.10" width="48.92" height="48.90" fill="#473a78"/>
<rect x="517.06" y="907.10" width="48.92" height="48.90" fill="#450c52"/>
<rect x="565.98" y="907.10" width="48.92" height="48.90" fill="#473a78"/>
<rect x="125.70" y="956.00" width="48.92" height="48.90" fill="#455a88"/>
<rect x="174.62" y="956.00" width="48.92" height="48.90" fill="#482d6e"/>
<rect x="223.54" y="956.00" width="48.92" height="48.90" fill="#472f70"/>
<rect x="272.46" y="956.00" width="48.92" height="48.90" fill="#481d60"/>
<rect x="370.30" y="956.00" width="48.92" height="48.90" fill="#48306f"/>
<rect x="517.06" y="956.00" width="48.92" height="48.90" fill="#45508a"/>
<rect x="125.70" y="1004.90" width="48.92" height="48.90" fill="#44054f"/>
<rect x="174.62" y="1004.90" width="48.92" height="48.90" fill="#44054f"/>
<rect x="223.54" y="1004.90" width="48.92" height="48.90" fill="#44054f"/>
<rect x="272.46" y="1004.90" width="48.92" height="48.90" fill="#44054f"/>
<rect x="370.30" y="1004.90" width="48.92" height="48.90" fill="#47ae80"/>
<rect x="517.06" y="1004.90" width="48.92" height="48.90" fill="#4a8c80"/>
<rect x="125.70" y="1053.80" width="48.92" height="48.90" fill="#44054f"/>
<rect x="174.62" y="1053.80" width="48.92" height="48.90" fill="#471a5e"/>
<rect x="223.54" y="1053.80" width="48.92" height="48.90" fill="#c8e038"/>
<rect x="272.46" y="1053.80" width="48.92" height="48.90" fill="#4a9a80"/>
<rect x="321.38" y="1053.80" width="48.92" height="48.90" fill="#48306f"/>
<rect x="370.30" y="1053.80" width="48.92" height="48.90" fill="#44054f"/>
<rect x="468.14" y="1053.80" width="48.92" height="48.90" fill="#473a78"/>
<rect x="517.06" y="1053.80" width="48.92" height="48.90" fill="#44054f"/>
<rect x="565.98" y="1053.80" width="48.92" height="48.90" fill="#473a78"/>
<rect x="614.90" y="1053.80" width="48.92" height="48.90" fill="#473a78"/>
<path d="M174.62,858.20V1102.70M223.54,858.20V1102.70M272.46,858.20V1102.70M321.38,858.20V1102.70M370.30,858.20V1102.70M419.22,858.20V1102.70M468.14,858.20V1102.70M517.06,858.20V1102.70M565.98,858.20V1102.70M614.90,858.20V1102.70M125.70,907.10H663.82M125.70,956.00H663.82M125.70,1004.90H663.82M125.70,1053.80H663.82" stroke="#000" stroke-width="5.0" fill="none"/>
<rect x="125.70" y="858.20" width="538.12" height="244.50" fill="none" stroke="#000" stroke-width="5.0" stroke-linejoin="round"/>
<rect x="957.80" y="858.20" width="48.95" height="48.90" fill="#d4e030"/>
<rect x="1006.75" y="858.20" width="48.95" height="48.90" fill="#d8e230"/>
<rect x="1055.70" y="858.20" width="48.95" height="48.90" fill="#d6e130"/>
<rect x="1153.60" y="858.20" width="48.95" height="48.90" fill="#e2e330"/>
<rect x="1202.55" y="858.20" width="48.95" height="48.90" fill="#e2e330"/>
<rect x="762.00" y="907.10" width="48.95" height="48.90" fill="#c6e035"/>
<rect x="859.90" y="907.10" width="48.95" height="48.90" fill="#c8e035"/>
<rect x="908.85" y="907.10" width="48.95" height="48.90" fill="#cfe133"/>
<rect x="957.80" y="907.10" width="48.95" height="48.90" fill="#d2e132"/>
<rect x="1006.75" y="907.10" width="48.95" height="48.90" fill="#d4e232"/>
<rect x="1055.70" y="907.10" width="48.95" height="48.90" fill="#e0e330"/>
<rect x="1104.65" y="907.10" width="48.95" height="48.90" fill="#d8e230"/>
<rect x="1153.60" y="907.10" width="48.95" height="48.90" fill="#e2e330"/>
<rect x="1202.55" y="907.10" width="48.95" height="48.90" fill="#eee52e"/>
<rect x="957.80" y="956.00" width="48.95" height="48.90" fill="#c6e035"/>
<rect x="1006.75" y="956.00" width="48.95" height="48.90" fill="#d2e133"/>
<rect x="1055.70" y="956.00" width="48.95" height="48.90" fill="#d6e131"/>
<rect x="1153.60" y="956.00" width="48.95" height="48.90" fill="#e4e42f"/>
<rect x="1202.55" y="956.00" width="48.95" height="48.90" fill="#e0e330"/>
<rect x="957.80" y="1004.90" width="48.95" height="48.90" fill="#e8e42f"/>
<rect x="1006.75" y="1004.90" width="48.95" height="48.90" fill="#dae230"/>
<rect x="1055.70" y="1004.90" width="48.95" height="48.90" fill="#d6e131"/>
<rect x="1153.60" y="1004.90" width="48.95" height="48.90" fill="#e2e330"/>
<rect x="1202.55" y="1004.90" width="48.95" height="48.90" fill="#dee230"/>
<rect x="810.95" y="1053.80" width="48.95" height="48.90" fill="#c8e035"/>
<rect x="859.90" y="1053.80" width="48.95" height="48.90" fill="#c8e035"/>
<rect x="908.85" y="1053.80" width="48.95" height="48.90" fill="#d0e133"/>
<rect x="957.80" y="1053.80" width="48.95" height="48.90" fill="#b8d840"/>
<rect x="1006.75" y="1053.80" width="48.95" height="48.90" fill="#d2e132"/>
<rect x="1055.70" y="1053.80" width="48.95" height="48.90" fill="#d4e132"/>
<rect x="1153.60" y="1053.80" width="48.95" height="48.90" fill="#e0e330"/>
<rect x="1202.55" y="1053.80" width="48.95" height="48.90" fill="#eee42e"/>
<path d="M810.95,858.20V1102.70M859.90,858.20V1102.70M908.85,858.20V1102.70M957.80,858.20V1102.70M1006.75,858.20V1102.70M1055.70,858.20V1102.70M1104.65,858.20V1102.70M1153.60,858.20V1102.70M1202.55,858.20V1102.70M762.00,907.10H1251.50M762.00,956.00H1251.50M762.00,1004.90H1251.50M762.00,1053.80H1251.50" stroke="#000" stroke-width="5.0" fill="none"/>
<rect x="762.00" y="858.20" width="489.50" height="244.50" fill="none" stroke="#000" stroke-width="5.0" stroke-linejoin="round"/>
<rect x="125.70" y="1167.40" width="48.92" height="48.60" fill="#461c5f"/>
<rect x="174.62" y="1167.40" width="48.92" height="48.60" fill="#47266a"/>
<rect x="223.54" y="1167.40" width="48.92" height="48.60" fill="#47276b"/>
<rect x="272.46" y="1167.40" width="48.92" height="48.60" fill="#472a6d"/>
<rect x="321.38" y="1167.40" width="48.92" height="48.60" fill="#472b6e"/>
<rect x="370.30" y="1167.40" width="48.92" height="48.60" fill="#46306f"/>
<rect x="419.22" y="1167.40" width="48.92" height="48.60" fill="#433a77"/>
<rect x="468.14" y="1167.40" width="48.92" height="48.60" fill="#433b78"/>
<rect x="517.06" y="1167.40" width="48.92" height="48.60" fill="#423d79"/>
<rect x="565.98" y="1167.40" width="48.92" height="48.60" fill="#423e7a"/>
<rect x="614.90" y="1167.40" width="48.92" height="48.60" fill="#413f7a"/>
<path d="M174.62,1167.40V1216.00M223.54,1167.40V1216.00M272.46,1167.40V1216.00M321.38,1167.40V1216.00M370.30,1167.40V1216.00M419.22,1167.40V1216.00M468.14,1167.40V1216.00M517.06,1167.40V1216.00M565.98,1167.40V1216.00M614.90,1167.40V1216.00" stroke="#000" stroke-width="5.0" fill="none"/>
<rect x="125.70" y="1167.40" width="538.12" height="48.60" fill="none" stroke="#000" stroke-width="5.0" stroke-linejoin="round"/>
<rect x="762.00" y="1167.40" width="48.95" height="48.60" fill="#c6e035"/>
<rect x="810.95" y="1167.40" width="48.95" height="48.60" fill="#c8e035"/>
<rect x="859.90" y="1167.40" width="48.95" height="48.60" fill="#cbe034"/>
<rect x="908.85" y="1167.40" width="48.95" height="48.60" fill="#cfe133"/>
<rect x="957.80" y="1167.40" width="48.95" height="48.60" fill="#d2e132"/>
<rect x="1006.75" y="1167.40" width="48.95" height="48.60" fill="#d6e131"/>
<rect x="1055.70" y="1167.40" width="48.95" height="48.60" fill="#dae230"/>
<rect x="1104.65" y="1167.40" width="48.95" height="48.60" fill="#dde230"/>
<rect x="1153.60" y="1167.40" width="48.95" height="48.60" fill="#e2e330"/>
<rect x="1202.55" y="1167.40" width="48.95" height="48.60" fill="#e8e42f"/>
<path d="M810.95,1167.40V1216.00M859.90,1167.40V1216.00M908.85,1167.40V1216.00M957.80,1167.40V1216.00M1006.75,1167.40V1216.00M1055.70,1167.40V1216.00M1104.65,1167.40V1216.00M1153.60,1167.40V1216.00M1202.55,1167.40V1216.00" stroke="#000" stroke-width="5.0" fill="none"/>
<rect x="762.00" y="1167.40" width="489.50" height="48.60" fill="none" stroke="#000" stroke-width="5.0" stroke-linejoin="round"/>
<rect x="682.1" y="870.0" width="8.6" height="8.5" fill="#000"/>
<rect x="708.7" y="870.0" width="8.6" height="8.5" fill="#000"/>
<rect x="735.2" y="870.0" width="8.6" height="8.5" fill="#000"/>
<rect x="682.1" y="917.8" width="8.6" height="8.5" fill="#000"/>
<rect x="708.7" y="917.8" width="8.6" height="8.5" fill="#000"/>
<rect x="735.2" y="917.8" width="8.6" height="8.5" fill="#000"/>
<rect x="682.1" y="971.5" width="8.6" height="8.5" fill="#000"/>
<rect x="708.7" y="971.5" width="8.6" height="8.5" fill="#000"/>
<rect x="735.2" y="971.5" width="8.6" height="8.5" fill="#000"/>
<rect x="682.1" y="1019.2" width="8.6" height="8.5" fill="#000"/>
<rect x="708.7" y="1019.2" width="8.6" height="8.5" fill="#000"/>
<rect x="735.2" y="1019.2" width="8.6" height="8.5" fill="#000"/>
<rect x="682.1" y="1069.2" width="8.6" height="8.5" fill="#000"/>
<rect x="708.7" y="1069.2" width="8.6" height="8.5" fill="#000"/>
<rect x="735.2" y="1069.2" width="8.6" height="8.5" fill="#000"/>
<rect x="682.1" y="1187.2" width="8.6" height="8.5" fill="#000"/>
<rect x="708.7" y="1187.2" width="8.6" height="8.5" fill="#000"/>
<rect x="735.2" y="1187.2" width="8.6" height="8.5" fill="#000"/>
<text x="661.60" y="688.20" font-size="31.3" font-weight="bold" fill="#000" textLength="173.92" lengthAdjust="spacingAndGlyphs" >2704 Genes</text>
<line x1="127" y1="709.9" x2="1254.2" y2="709.9" stroke="#000" stroke-width="3.7"/>
<text transform="translate(155.16,844.00) rotate(-62)" x="-0.10" y="0" font-size="27.2" fill="#000">ARPC5</text>
<text transform="translate(201.08,844.00) rotate(-62)" x="-0.10" y="0" font-size="27.2" fill="#000">APOBEC4</text>
<text transform="translate(255.00,844.00) rotate(-62)" x="-1.30" y="0" font-size="27.2" fill="#000">STUM</text>
<text transform="translate(301.42,844.00) rotate(-62)" x="-2.20" y="0" font-size="27.2" fill="#000">PRKRA</text>
<text transform="translate(355.24,842.60) rotate(-62)" x="-2.20" y="0" font-size="27.2" fill="#000">RIPK1</text>
<text transform="translate(406.76,842.60) rotate(-62)" x="-2.20" y="0" font-size="27.2" fill="#000">PAK2</text>
<text transform="translate(444.98,844.00) rotate(-62)" x="-1.30" y="0" font-size="27.2" fill="#000">OGFOD1</text>
<text transform="translate(499.30,842.60) rotate(-62)" x="-2.20" y="0" font-size="27.2" fill="#000">EDEM3</text>
<text transform="translate(548.02,843.00) rotate(-62)" x="-2.20" y="0" font-size="27.2" fill="#000">HMGB4</text>
<text transform="translate(596.84,843.00) rotate(-62)" x="-2.20" y="0" font-size="27.2" fill="#000">NCOR2</text>
<text transform="translate(648.26,843.00) rotate(-62)" x="-2.20" y="0" font-size="27.2" fill="#000">BAZ2B</text>
<text transform="translate(792.48,844.00) rotate(-62)" x="-0.60" y="0" font-size="27.2" fill="#000">TRIM28</text>
<text transform="translate(850.42,844.00) rotate(-62)" x="-2.20" y="0" font-size="27.2" fill="#000">B2M</text>
<text transform="translate(895.88,842.60) rotate(-62)" x="-2.20" y="0" font-size="27.2" fill="#000">POLR2A</text>
<text transform="translate(948.33,843.00) rotate(-62)" x="-2.20" y="0" font-size="27.2" fill="#000">RPL7</text>
<text transform="translate(993.27,844.00) rotate(-62)" x="-2.10" y="0" font-size="27.2" fill="#000">UHRF1</text>
<text transform="translate(1047.92,843.30) rotate(-62)" x="-2.20" y="0" font-size="27.2" fill="#000">NIP7</text>
<text transform="translate(1082.77,844.00) rotate(-62)" x="-0.60" y="0" font-size="27.2" fill="#000">TINAGL1</text>
<text transform="translate(1140.12,844.00) rotate(-62)" x="-2.20" y="0" font-size="27.2" fill="#000">RPS11</text>
<text transform="translate(1183.48,842.60) rotate(-62)" x="-2.20" y="0" font-size="27.2" fill="#000">DMRTB1</text>
<text transform="translate(1238.83,844.70) rotate(-62)" x="-0.10" y="0" font-size="27.2" fill="#000">ARID2</text>
<text transform="translate(31.00,844.00) rotate(-62)" x="-1.20" y="0" font-size="30" font-weight="bold" fill="#000">cohort</text>
<text transform="translate(84.50,844.00) rotate(-62)" x="-1.20" y="0" font-size="30" font-weight="bold" fill="#000">cancer</text>
<text x="34.59" y="1197.90" font-size="28" font-weight="bold" fill="#000" textLength="71.89" lengthAdjust="spacingAndGlyphs" >Mean</text>
<polygon points="703.6,1104.2 722.5,1104.2 722.5,1137.9 735.7,1137.9 713.1,1160.5 690.2,1137.9 703.6,1137.9" fill="#660000"/>
<path d="M126.9,1222.6 C128.9,1232.8 134.9,1236.8 147.9,1236.8 L395.2,1236.8 C403.2,1236.8 407.2,1240.8 407.2,1256.6 C407.2,1240.8 411.2,1236.8 419.2,1236.8 L668.3,1236.8 C681.3,1236.8 687.3,1232.8 689.3,1222.6" fill="none" stroke="#231815" stroke-width="2.2"/>
<path d="M739.4,1222.5 C741.4,1233.5 747.4,1237.5 760.4,1237.5 L984.2,1237.5 C992.2,1237.5 996.2,1241.5 996.2,1256.3 C996.2,1241.5 1000.2,1237.5 1008.2,1237.5 L1233.5,1237.5 C1246.5,1237.5 1252.5,1233.5 1254.5,1222.5" fill="none" stroke="#231815" stroke-width="2.2"/>
<text x="203.37" y="1294.40" font-size="38.5" font-weight="bold" fill="#45195f" textLength="432.99" lengthAdjust="spacingAndGlyphs" stroke="#45195f" stroke-width="1.1">103 ICI suppressor genes</text>
<text x="814.97" y="1298.70" font-size="38.5" font-weight="bold" fill="#e8e22c" textLength="381.39" lengthAdjust="spacingAndGlyphs" stroke="#e8e22c" stroke-width="1.1">86 ICI enhancer genes</text>
<text x="1341.00" y="709.90" font-size="31" font-weight="bold" fill="#000" textLength="96.13" lengthAdjust="spacingAndGlyphs" >cohort</text>
<rect x="1342.00" y="729.70" width="48.60" height="48.96" fill="#e6ab02"/>
<rect x="1342.00" y="778.66" width="48.60" height="48.96" fill="#e7298a"/>
<rect x="1342.00" y="827.62" width="48.60" height="48.96" fill="#7570b3"/>
<rect x="1342.00" y="876.58" width="48.60" height="48.96" fill="#d95f02"/>
<rect x="1342.00" y="925.54" width="48.60" height="48.96" fill="#1b9e77"/>
<path d="M1342.00,778.66H1390.60M1342.00,827.62H1390.60M1342.00,876.58H1390.60M1342.00,925.54H1390.60" stroke="#000" stroke-width="5.0" fill="none"/>
<rect x="1342.00" y="729.70" width="48.60" height="244.80" fill="none" stroke="#000" stroke-width="5.0" stroke-linejoin="round"/>
<text x="1407.80" y="764.10" font-size="27.7" fill="#000" textLength="370.26" lengthAdjust="spacingAndGlyphs" >Li 2020-anti-PD1-Lung cancer</text>
<text x="1407.80" y="812.65" font-size="27.7" fill="#000" textLength="586.08" lengthAdjust="spacingAndGlyphs" >Li 2020-anti-CTLA4/anti-PD1-Pancreatic cancer</text>
<text x="1410.00" y="861.20" font-size="27.7" fill="#000" textLength="448.36" lengthAdjust="spacingAndGlyphs" >Wang 2020-anti-CTLA4-Liver cancer</text>
<text x="1410.00" y="909.75" font-size="27.7" fill="#000" textLength="416.54" lengthAdjust="spacingAndGlyphs" >Wang 2020-anti-PD1-Liver cancer</text>
<text x="1407.80" y="958.30" font-size="27.7" fill="#000" textLength="589.77" lengthAdjust="spacingAndGlyphs" >Dubrot 2021-anti-CTLA4/anti-PD1-Renal cancer</text>
<text x="1341.20" y="1054.00" font-size="31" font-weight="bold" fill="#000" textLength="100.37" lengthAdjust="spacingAndGlyphs" >cancer</text>
<rect x="1343.50" y="1071.70" width="48.00" height="48.90" fill="#5cb04f"/>
<rect x="1343.50" y="1120.60" width="48.00" height="48.90" fill="#7e51a3"/>
<rect x="1343.50" y="1169.50" width="48.00" height="48.90" fill="#3a9cbc"/>
<rect x="1343.50" y="1218.40" width="48.00" height="48.90" fill="#ffc702"/>
<path d="M1343.50,1120.60H1391.50M1343.50,1169.50H1391.50M1343.50,1218.40H1391.50" stroke="#000" stroke-width="5.0" fill="none"/>
<rect x="1343.50" y="1071.70" width="48.00" height="195.60" fill="none" stroke="#000" stroke-width="5.0" stroke-linejoin="round"/>
<text x="1408.28" y="1107.10" font-size="27.7" fill="#000" textLength="153.77" lengthAdjust="spacingAndGlyphs" >Lung cancer</text>
<text x="1408.29" y="1156.60" font-size="27.7" fill="#000" textLength="223.02" lengthAdjust="spacingAndGlyphs" >Pancreatic cancer</text>
<text x="1408.27" y="1206.10" font-size="27.7" fill="#000" textLength="153.01" lengthAdjust="spacingAndGlyphs" >Liver cancer</text>
<text x="1408.27" y="1255.60" font-size="27.7" fill="#000" textLength="165.04" lengthAdjust="spacingAndGlyphs" >Renal cancer</text>
<text x="1676.58" y="1052.20" font-size="31" font-weight="bold" fill="#000" textLength="125.82" lengthAdjust="spacingAndGlyphs" >z scores</text>
<defs><linearGradient id="vir" x1="0" y1="1" x2="0" y2="0"><stop offset="0" stop-color="#440154"/><stop offset="0.25" stop-color="#3b528b"/><stop offset="0.5" stop-color="#21908c"/><stop offset="0.75" stop-color="#c2df23"/><stop offset="1" stop-color="#fde725"/></linearGradient></defs>
<defs><linearGradient id="zs" x1="0" y1="1" x2="0" y2="0"><stop offset="0" stop-color="#450a55"/><stop offset="0.25" stop-color="#3d4a89"/><stop offset="0.5" stop-color="#35a47f"/><stop offset="0.75" stop-color="#d0e13a"/><stop offset="1" stop-color="#f8e62a"/></linearGradient></defs>
<rect x="1677" y="1069.2" width="41.7" height="208.5" fill="url(#zs)"/>
<line x1="1677" y1="1076.8" x2="1684" y2="1076.8" stroke="#fff" stroke-width="1.6"/>
<line x1="1711.7" y1="1076.8" x2="1718.7" y2="1076.8" stroke="#fff" stroke-width="1.6"/>
<text x="1726.10" y="1090.00" font-size="27.7" fill="#000" >1</text>
<line x1="1677" y1="1125.3" x2="1684" y2="1125.3" stroke="#fff" stroke-width="1.6"/>
<line x1="1711.7" y1="1125.3" x2="1718.7" y2="1125.3" stroke="#fff" stroke-width="1.6"/>
<text x="1727.10" y="1138.50" font-size="27.7" fill="#000" >0.5</text>
<line x1="1677" y1="1173.5" x2="1684" y2="1173.5" stroke="#fff" stroke-width="1.6"/>
<line x1="1711.7" y1="1173.5" x2="1718.7" y2="1173.5" stroke="#fff" stroke-width="1.6"/>
<text x="1727.10" y="1186.70" font-size="27.7" fill="#000" >0</text>
<line x1="1677" y1="1221.6" x2="1684" y2="1221.6" stroke="#fff" stroke-width="1.6"/>
<line x1="1711.7" y1="1221.6" x2="1718.7" y2="1221.6" stroke="#fff" stroke-width="1.6"/>
<text x="1726.80" y="1234.80" font-size="27.7" fill="#000" >−0.5</text>
<line x1="1677" y1="1270.1" x2="1684" y2="1270.1" stroke="#fff" stroke-width="1.6"/>
<line x1="1711.7" y1="1270.1" x2="1718.7" y2="1270.1" stroke="#fff" stroke-width="1.6"/>
<text x="1726.80" y="1283.30" font-size="27.7" fill="#000" >−1</text>
<path d="M190,1718.4 L190,1718.2 L250,1717.9 L300,1717.6 L350,1717.2 L400,1716.6 L430,1716.0 L450,1715.4 L470,1714.8 L490,1714.0 L510,1713.3 L530,1712.6 L545,1712.0 L555,1711.2 L562,1710.0 L568,1708.2 L573,1706.0 L578,1703.4 L582,1701.0 L585,1699.0 L587.5,1697.2 L587.5,1718.4 Z" fill="#df4b37"/>
<path d="M587.5,1718.4 L587.5,1697.2 L592,1683 L597,1671.7 L603.5,1658.7 L606.8,1639.2 L609.5,1622 L611.7,1606.6 L614,1590 L616.5,1574 L619,1553 L621.4,1533.3 L624,1513 L626.3,1497.5 L628.8,1485.2 L630.4,1487.7 L632,1500 L633.6,1517 L635.6,1537 L637.7,1557.7 L639.7,1574 L641.8,1590.3 L643.9,1607 L645.9,1622.9 L647.5,1635 L649.1,1647.3 L650.8,1660 L652.4,1671.7 L654.8,1684 L657.3,1696.2 L660.5,1706 L663.8,1714.1 L666.2,1717.5 L666.2,1718.4 Z" fill="#d6d3d3"/>
<path d="M666.2,1718.4 L666.2,1713.5 L668.7,1714.1 L673,1715.6 L678.4,1717.0 L686,1717.8 L696.4,1718.1 Z" fill="#2a9bbb"/>
<line x1="586.9" y1="1470" x2="586.9" y2="1718.4" stroke="#000" stroke-width="3.6" stroke-dasharray="6.3 10.6 23.6 10.6 23.6 10.6 23.6 10.6 23.6 10.6 23.6 10.6 23.6 10.6 23.6 10.6"/>
<line x1="666.2" y1="1470" x2="666.2" y2="1718.4" stroke="#000" stroke-width="3.6" stroke-dasharray="24.2 11.3 22.8 11.3 23.6 10.6 23.6 10.6 23.6 10.6 23.6 10.6 23.6 10.6"/>
<path d="M149.7,1476.3 V1726.7 H815.2" fill="none" stroke="#333333" stroke-width="2.3"/>
<line x1="142.5" y1="1485.0" x2="149.7" y2="1485.0" stroke="#333333" stroke-width="2.3"/>
<text x="118.80" y="1492.8" font-size="21.5" fill="#000">4</text>
<line x1="142.5" y1="1543.4" x2="149.7" y2="1543.4" stroke="#333333" stroke-width="2.3"/>
<text x="119.10" y="1551.2" font-size="21.5" fill="#000">3</text>
<line x1="142.5" y1="1601.7" x2="149.7" y2="1601.7" stroke="#333333" stroke-width="2.3"/>
<text x="119.20" y="1609.5" font-size="21.5" fill="#000">2</text>
<line x1="142.5" y1="1660.1" x2="149.7" y2="1660.1" stroke="#333333" stroke-width="2.3"/>
<text x="119.20" y="1667.9" font-size="21.5" fill="#000">1</text>
<line x1="142.5" y1="1718.4" x2="149.7" y2="1718.4" stroke="#333333" stroke-width="2.3"/>
<text x="119.00" y="1726.2" font-size="21.5" fill="#000">0</text>
<line x1="172.9" y1="1726.7" x2="172.9" y2="1736.9" stroke="#333333" stroke-width="2.3"/>
<text x="155.85" y="1761.80" font-size="21.5" fill="#000" textLength="27.90" lengthAdjust="spacingAndGlyphs" >−3</text>
<line x1="324.2" y1="1726.7" x2="324.2" y2="1736.9" stroke="#333333" stroke-width="2.3"/>
<text x="307.84" y="1761.80" font-size="21.5" fill="#000" textLength="28.03" lengthAdjust="spacingAndGlyphs" >−2</text>
<line x1="475.5" y1="1726.7" x2="475.5" y2="1736.9" stroke="#333333" stroke-width="2.3"/>
<text x="458.08" y="1761.80" font-size="21.5" fill="#000" textLength="27.15" lengthAdjust="spacingAndGlyphs" >−1</text>
<line x1="626.8" y1="1726.7" x2="626.8" y2="1736.9" stroke="#333333" stroke-width="2.3"/>
<text x="619.84" y="1761.80" font-size="21.5" fill="#000" textLength="14.31" lengthAdjust="spacingAndGlyphs" >0</text>
<line x1="778.1" y1="1726.7" x2="778.1" y2="1736.9" stroke="#333333" stroke-width="2.3"/>
<text x="771.15" y="1761.80" font-size="21.5" fill="#000" textLength="12.35" lengthAdjust="spacingAndGlyphs" >1</text>
<text x="399.48" y="1792.20" font-size="24" fill="#231815" textLength="216.78" lengthAdjust="spacingAndGlyphs" >Mean CERES score</text>
<text transform="translate(102.30,1693.40) rotate(-90)" x="-2.02" y="0" font-size="24" fill="#231815" textLength="196.50" lengthAdjust="spacingAndGlyphs">Probability density</text>
<text x="287.07" y="1484.90" font-size="24" fill="#231815" textLength="233.04" lengthAdjust="spacingAndGlyphs" >Proliferation inhibition</text>
<text x="361.09" y="1513.60" font-size="24" fill="#231815" textLength="157.54" lengthAdjust="spacingAndGlyphs" >upon knockout</text>
<line x1="532.4" y1="1532" x2="363" y2="1532" stroke="#e04a35" stroke-width="1.7"/>
<polygon points="346.4,1532 365.3,1527 365.3,1537.2" fill="#e04a35"/>
<text x="707.38" y="1485.20" font-size="24" fill="#231815" textLength="244.31" lengthAdjust="spacingAndGlyphs" >Proliferation promotion</text>
<text x="707.90" y="1513.00" font-size="24" fill="#231815" textLength="156.63" lengthAdjust="spacingAndGlyphs" >upon knockout</text>
<line x1="701.2" y1="1531.7" x2="798" y2="1531.7" stroke="#2a9bbb" stroke-width="1.7"/>
<polygon points="815.2,1531.7 796.5,1526.8 796.5,1536.9" fill="#2a9bbb"/>
<text x="263.48" y="1610.30" font-size="24" fill="#231815" textLength="201.06" lengthAdjust="spacingAndGlyphs" >10616 proliferation</text>
<text x="263.29" y="1639.00" font-size="24" fill="#231815" textLength="214.92" lengthAdjust="spacingAndGlyphs" >-independent genes</text>
<text x="239.58" y="1671.20" font-size="24" fill="#231815" textLength="258.95" lengthAdjust="spacingAndGlyphs" >(-0.25 &lt; CERES &lt; 0.25)</text>
<line x1="477.5" y1="1618.6" x2="613.5" y2="1598.8" stroke="#d0cfcf" stroke-width="2.6"/>
<defs><clipPath id="cb"><circle cx="296" cy="2030.6" r="155.4"/></clipPath></defs>
<circle cx="424.5" cy="1999" r="81" fill="#fbfbfb"/>
<g clip-path="url(#cb)"><circle cx="424.5" cy="1999" r="81" fill="#dbeef0"/><circle cx="452.9" cy="2096.3" r="47" fill="#dbeef0"/></g>
<circle cx="296" cy="2030.6" r="155.4" fill="none" stroke="#3393d8" stroke-width="2.5"/>
<circle cx="424.5" cy="1999" r="81" fill="none" stroke="#f0924a" stroke-width="2.5"/>
<circle cx="452.9" cy="2096.3" r="47" fill="none" stroke="#a0309a" stroke-width="2.5"/>
<line x1="336.5" y1="2027" x2="397.6" y2="2002.9" stroke="#231815" stroke-width="1.6"/>
<line x1="336.5" y1="2052.2" x2="428.6" y2="2065.9" stroke="#231815" stroke-width="1.6"/>
<line x1="326.7" y1="2071" x2="421.9" y2="2095.7" stroke="#231815" stroke-width="1.6"/>
<line x1="504.6" y1="1982.3" x2="532.9" y2="1968.6" stroke="#f0924a" stroke-width="2.5"/>
<line x1="498.5" y1="2110" x2="545.7" y2="2084.7" stroke="#a0309a" stroke-width="2.5"/>
<line x1="149.8" y1="2084.1" x2="124.6" y2="2134.3" stroke="#3393d8" stroke-width="2.5"/>
<text x="158.36" y="2034.00" font-size="23.5" fill="#231815" textLength="173.28" lengthAdjust="spacingAndGlyphs" >Query signature</text>
<text x="180.84" y="2061.30" font-size="23.5" fill="#231815" textLength="130.74" lengthAdjust="spacingAndGlyphs" >(215 genes)</text>
<text x="537.07" y="1973.10" font-size="23.5" fill="#231815" textLength="112.92" lengthAdjust="spacingAndGlyphs" >319 genes</text>
<text x="551.43" y="2088.70" font-size="23.5" fill="#231815" textLength="113.77" lengthAdjust="spacingAndGlyphs" >189 genes</text>
<text x="37.16" y="2158.30" font-size="23.5" fill="#231815" textLength="138.56" lengthAdjust="spacingAndGlyphs" >10616 genes</text>
<circle cx="689.5" cy="1959.3" r="13.1" fill="none" stroke="#3393d8" stroke-width="2.3"/>
<circle cx="689.5" cy="2034.1" r="13.1" fill="none" stroke="#f0924a" stroke-width="2.3"/>
<circle cx="689.5" cy="2108.6" r="13.1" fill="none" stroke="#a0309a" stroke-width="2.3"/>
<text x="710.15" y="1955.40" font-size="23.5" fill="#231815" textLength="268.46" lengthAdjust="spacingAndGlyphs" >proliferation-independent</text>
<text x="710.66" y="1984.60" font-size="23.5" fill="#231815" textLength="66.61" lengthAdjust="spacingAndGlyphs" >genes</text>
<text x="709.43" y="2043.30" font-size="23.5" fill="#231815" textLength="212.70" lengthAdjust="spacingAndGlyphs" >IREsignature genes</text>
<text x="711.23" y="2108.60" font-size="23.5" fill="#231815" textLength="232.89" lengthAdjust="spacingAndGlyphs" >ICI enhancer genes +</text>
<text x="711.24" y="2137.40" font-size="23.5" fill="#231815" textLength="229.96" lengthAdjust="spacingAndGlyphs" >ICI suppressor genes</text>
<defs><linearGradient id="fan" x1="1278" y1="0" x2="1445" y2="0" gradientUnits="userSpaceOnUse"><stop offset="0" stop-color="#9a6db6"/><stop offset="0.45" stop-color="#c3a8d4"/><stop offset="0.8" stop-color="#e6dcee"/><stop offset="1" stop-color="#ffffff"/></linearGradient></defs>
<path d="M1278,1681.6 C1330,1660 1370,1650 1395,1610 C1415,1580 1428,1550 1445,1530 L1445,1895 C1428,1870 1415,1840 1395,1810 C1370,1760 1330,1720 1278,1681.6 Z" fill="url(#fan)"/>
<path d="M1188,1567.8 V2055.6 H1928.5" fill="none" stroke="#000" stroke-width="2.2"/>
<line x1="1184.5" y1="1627.4" x2="1188" y2="1627.4" stroke="#000" stroke-width="2.2"/>
<text x="1162.09" y="1636.30" font-size="25.5" fill="#000" textLength="16.52" lengthAdjust="spacingAndGlyphs" >2</text>
<line x1="1184.5" y1="1726.2" x2="1188" y2="1726.2" stroke="#000" stroke-width="2.2"/>
<text x="1124.33" y="1735.13" font-size="25.5" fill="#000" textLength="54.01" lengthAdjust="spacingAndGlyphs" >1.25</text>
<line x1="1184.5" y1="1825.1" x2="1188" y2="1825.1" stroke="#000" stroke-width="2.2"/>
<text x="1140.02" y="1833.96" font-size="25.5" fill="#000" textLength="38.22" lengthAdjust="spacingAndGlyphs" >0.5</text>
<line x1="1184.5" y1="1923.9" x2="1188" y2="1923.9" stroke="#000" stroke-width="2.2"/>
<text x="1114.39" y="1932.78" font-size="25.5" fill="#000" textLength="63.95" lengthAdjust="spacingAndGlyphs" >-0.25</text>
<line x1="1184.5" y1="2022.7" x2="1188" y2="2022.7" stroke="#000" stroke-width="2.2"/>
<text x="1152.33" y="2031.61" font-size="25.5" fill="#000" textLength="26.26" lengthAdjust="spacingAndGlyphs" >-1</text>
<line x1="1219.3" y1="2055.6" x2="1219.3" y2="2059" stroke="#000" stroke-width="2.2"/>
<text x="1205.52" y="2086.00" font-size="26.5" fill="#000" textLength="15.91" lengthAdjust="spacingAndGlyphs" >0</text>
<line x1="1433.1" y1="2055.6" x2="1433.1" y2="2059" stroke="#000" stroke-width="2.2"/>
<text x="1408.80" y="2086.00" font-size="26.5" fill="#000" textLength="47.50" lengthAdjust="spacingAndGlyphs" >225</text>
<line x1="1646.9" y1="2055.6" x2="1646.9" y2="2059" stroke="#000" stroke-width="2.2"/>
<text x="1623.46" y="2086.00" font-size="26.5" fill="#000" textLength="46.91" lengthAdjust="spacingAndGlyphs" >450</text>
<line x1="1860.8" y1="2055.6" x2="1860.8" y2="2059" stroke="#000" stroke-width="2.2"/>
<text x="1837.23" y="2086.00" font-size="26.5" fill="#000" textLength="46.54" lengthAdjust="spacingAndGlyphs" >675</text>
<text x="1352.20" y="2135.50" font-size="27.8" fill="#000" textLength="404.04" lengthAdjust="spacingAndGlyphs" >Repurposing candidates (n=698)</text>
<text transform="translate(1095.30,1921.20) rotate(-90)" x="-1.41" y="0" font-size="27.5" fill="#000" textLength="226.19" lengthAdjust="spacingAndGlyphs">Connectivity score</text>
<circle cx="1239.8" cy="1746.6" r="9.3" fill="#bebebe"/>
<circle cx="1243" cy="1752" r="9.3" fill="#bebebe"/>
<circle cx="1246.6" cy="1757.4" r="9.3" fill="#bebebe"/>
<circle cx="1248.6" cy="1770.1" r="9.3" fill="#bebebe"/>
<circle cx="1253" cy="1775" r="9.3" fill="#bebebe"/>
<circle cx="1257" cy="1779" r="9.3" fill="#bebebe"/>
<circle cx="1261.3" cy="1783.8" r="9.3" fill="#bebebe"/>
<circle cx="1265" cy="1789" r="9.3" fill="#bebebe"/>
<circle cx="1269.1" cy="1794.5" r="9.3" fill="#bebebe"/>
<circle cx="1274" cy="1800" r="9.3" fill="#bebebe"/>
<circle cx="1278" cy="1805" r="9.3" fill="#bebebe"/>
<circle cx="1282.8" cy="1810.1" r="9.3" fill="#bebebe"/>
<circle cx="1286.5" cy="1815" r="9.3" fill="#bebebe"/>
<circle cx="1290.6" cy="1819.9" r="9.3" fill="#bebebe"/>
<circle cx="1298" cy="1822.5" r="9.3" fill="#bebebe"/>
<circle cx="1306.2" cy="1825.8" r="9.3" fill="#bebebe"/>
<circle cx="1315" cy="1828.5" r="9.3" fill="#bebebe"/>
<circle cx="1323.8" cy="1831.6" r="9.3" fill="#bebebe"/>
<circle cx="1330" cy="1834" r="9.3" fill="#bebebe"/>
<circle cx="1337" cy="1837.5" r="9.3" fill="#bebebe"/>
<circle cx="1343.4" cy="1841.4" r="9.3" fill="#bebebe"/>
<circle cx="1223.8" cy="1621.6" r="9.3" fill="#bebebe"/>
<circle cx="1225.1" cy="1647.9" r="9.3" fill="#bebebe"/>
<circle cx="1230" cy="1650.5" r="9.3" fill="#a0319f"/>
<circle cx="1232" cy="1667.1" r="9.3" fill="#bebebe"/>
<circle cx="1234.3" cy="1683.1" r="9.3" fill="#a0319f"/>
<circle cx="1235.9" cy="1727.1" r="9.3" fill="#bebebe"/>
<circle cx="1238.4" cy="1731.6" r="9.3" fill="#a0319f"/>
<circle cx="1637.1" cy="1964.5" r="9.1" fill="#bebebe"/>
<circle cx="1647.9" cy="1967.3" r="9.1" fill="#bebebe"/>
<circle cx="1653.8" cy="1967.3" r="9.1" fill="#bebebe"/>
<circle cx="1679" cy="1979.7" r="9.1" fill="#bebebe"/>
<circle cx="1701.6" cy="1991" r="9.1" fill="#bebebe"/>
<circle cx="1710.3" cy="1990.6" r="9.1" fill="#bebebe"/>
<circle cx="1724" cy="1994.5" r="9.1" fill="#bebebe"/>
<circle cx="1751.1" cy="2002.1" r="9.1" fill="#bebebe"/>
<circle cx="1763.7" cy="2004.7" r="9.1" fill="#bebebe"/>
<circle cx="1768.9" cy="2009" r="9.1" fill="#bebebe"/>
<circle cx="1775" cy="2007.3" r="9.1" fill="#bebebe"/>
<circle cx="1785.8" cy="2011.2" r="9.1" fill="#bebebe"/>
<circle cx="1798.9" cy="2012.9" r="9.1" fill="#bebebe"/>
<circle cx="1811.2" cy="2013.4" r="9.1" fill="#bebebe"/>
<circle cx="1870.1" cy="2029.7" r="9.1" fill="#bebebe"/>
<circle cx="1874.2" cy="2030.7" r="9.1" fill="#bebebe"/>
<circle cx="1892.9" cy="2032.5" r="9.1" fill="#bebebe"/>
<circle cx="1221.2" cy="1590.3" r="9.4" fill="#a0319f"/>
<text x="1239.40" y="1598.10" font-size="27.7" fill="#a0319f" textLength="131.09" lengthAdjust="spacingAndGlyphs" >Decitabine</text>
<path d="M1256.4,1615.7 C1262,1616 1263.5,1620 1263.5,1628 L1263.5,1674 C1263.5,1679 1264.5,1681 1266.5,1681.6 C1264.5,1682.2 1263.5,1684 1263.5,1690 L1263.5,1736 C1263.5,1744 1262,1747.5 1256.4,1747.6" fill="none" stroke="#231815" stroke-width="2.2"/>
<text x="1453.79" y="1603.00" font-size="27.7" fill="#000" textLength="157.98" lengthAdjust="spacingAndGlyphs" >Methoxsalen</text>
<text x="1453.80" y="1636.90" font-size="27.7" fill="#000" textLength="237.30" lengthAdjust="spacingAndGlyphs" >Hydroflumethiazide</text>
<text x="1453.79" y="1669.80" font-size="27.7" fill="#000" textLength="168.27" lengthAdjust="spacingAndGlyphs" >Butoconazole</text>
<text x="1455.50" y="1702.80" font-size="27.7" fill="#a0319f" textLength="138.99" lengthAdjust="spacingAndGlyphs" >Tolazamide</text>
<text x="1453.77" y="1735.70" font-size="27.7" fill="#000" textLength="133.88" lengthAdjust="spacingAndGlyphs" >Lidoflazine</text>
<text x="1455.50" y="1768.70" font-size="27.7" fill="#a0319f" textLength="126.44" lengthAdjust="spacingAndGlyphs" >Tamoxifen</text>
<text x="1453.79" y="1801.60" font-size="27.7" fill="#000" textLength="168.32" lengthAdjust="spacingAndGlyphs" >Pyrazinamide</text>
<text x="1454.80" y="1835.50" font-size="27.7" fill="#a0319f" textLength="164.76" lengthAdjust="spacingAndGlyphs" >Sulfasalazine</text>
<text x="1453.57" y="1869.10" font-size="27.7" fill="#000" textLength="146.61" lengthAdjust="spacingAndGlyphs" >Indapamide</text>
<rect x="1690.5" y="1726.9" width="18.2" height="18.2" fill="#a0319f"/>
<text x="1716.40" y="1732.60" font-size="27.7" fill="#000" textLength="221.78" lengthAdjust="spacingAndGlyphs" >With experimental</text>
<text x="1715.30" y="1765.50" font-size="27.7" fill="#000" textLength="234.74" lengthAdjust="spacingAndGlyphs" >or clinical evidence</text>
</svg>
</body></html>
